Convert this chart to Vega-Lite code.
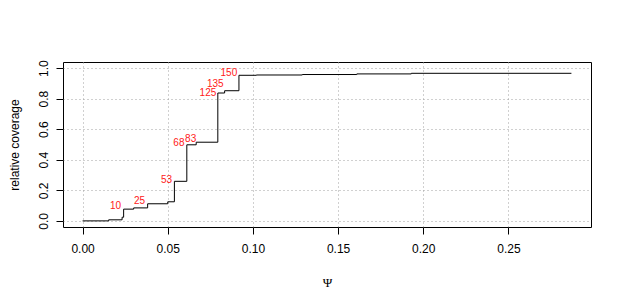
{
  "$schema": "https://vega.github.io/schema/vega-lite/v6.json",
  "width": 528,
  "height": 165,
  "autosize": {"type": "none"},
  "padding": {"left": 63, "top": 62, "right": 32, "bottom": 78},
  "background": "white",
  "config": {
    "view": {"stroke": "black", "strokeWidth": 1},
    "axis": {
      "domain": false,
      "tickColor": "black",
      "tickSize": 7,
      "labelFont": "Liberation Sans",
      "labelFontSize": 12,
      "labelColor": "black",
      "titleFont": "Liberation Sans",
      "titleFontSize": 12,
      "titleFontWeight": "normal",
      "titleColor": "black",
      "grid": true,
      "gridColor": "#A0A0A0",
      "gridDash": [1, 3],
      "gridWidth": 1
    }
  },
  "datasets": {
    "steps": [
      {"psi": 0.0, "coverage": 0.0},
      {"psi": 0.0153, "coverage": 0.007},
      {"psi": 0.0232, "coverage": 0.024},
      {"psi": 0.0241, "coverage": 0.077},
      {"psi": 0.0300, "coverage": 0.085},
      {"psi": 0.0382, "coverage": 0.112},
      {"psi": 0.0500, "coverage": 0.125},
      {"psi": 0.0539, "coverage": 0.259},
      {"psi": 0.0612, "coverage": 0.498},
      {"psi": 0.0667, "coverage": 0.515},
      {"psi": 0.0794, "coverage": 0.837},
      {"psi": 0.0834, "coverage": 0.852},
      {"psi": 0.0918, "coverage": 0.953},
      {"psi": 0.102, "coverage": 0.955},
      {"psi": 0.129, "coverage": 0.958},
      {"psi": 0.161, "coverage": 0.962},
      {"psi": 0.193, "coverage": 0.966},
      {"psi": 0.287, "coverage": 0.966}
    ],
    "labels": [
      {"psi": 0.0226, "coverage": 0.095, "label": "10"},
      {"psi": 0.0367, "coverage": 0.131, "label": "25"},
      {"psi": 0.0526, "coverage": 0.270, "label": "53"},
      {"psi": 0.0598, "coverage": 0.511, "label": "68"},
      {"psi": 0.0667, "coverage": 0.537, "label": "83"},
      {"psi": 0.0785, "coverage": 0.834, "label": "125"},
      {"psi": 0.0828, "coverage": 0.895, "label": "135"},
      {"psi": 0.0908, "coverage": 0.965, "label": "150"}
    ]
  },
  "encoding": {
    "x": {
      "field": "psi", "type": "quantitative",
      "scale": {"domain": [-0.0115, 0.2985], "nice": false, "zero": false},
      "axis": {
        "values": [0, 0.05, 0.1, 0.15, 0.2, 0.25],
        "format": ".2f",
        "labelPadding": 9,
        "title": "Ψ",
        "titleFont": "Liberation Serif",
        "titleFontSize": 13,
        "titlePadding": 22
      }
    },
    "y": {
      "field": "coverage", "type": "quantitative",
      "scale": {"domain": [-0.04, 1.04], "nice": false, "zero": false},
      "axis": {
        "values": [0, 0.2, 0.4, 0.6, 0.8, 1],
        "tickCount": 6,
        "format": ".1f",
        "labelAngle": -90,
        "labelAlign": "center",
        "labelBaseline": "bottom",
        "labelPadding": 6,
        "labelOverlap": false,
        "labelBound": false,
        "title": "relative coverage",
        "titlePadding": 16
      }
    }
  },
  "layer": [
    {
      "data": {"name": "steps"},
      "mark": {"type": "line", "interpolate": "step-after", "color": "black", "strokeWidth": 1}
    },
    {
      "data": {"name": "labels"},
      "mark": {"type": "text", "align": "right", "baseline": "middle", "color": "#FF2020", "font": "Liberation Sans", "fontSize": 10},
      "encoding": {
        "text": {"field": "label"}
      }
    }
  ]
}
